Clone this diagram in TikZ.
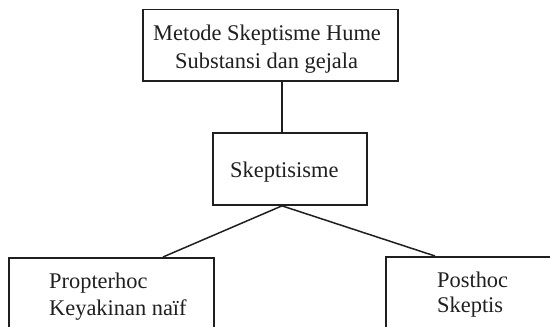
\documentclass[tikz,border=0pt]{standalone}
\usepackage{fontspec}
\setmainfont{Liberation Serif}
\begin{document}
\begin{tikzpicture}[x=1pt,y=-1pt,
  boxstyle/.style={draw=black!88,line width=1.7pt,rectangle,inner sep=0pt},
  txt/.style={inner sep=0pt,anchor=base west,font=\fontsize{22.4}{27}\selectfont,text=black!88},
  conn/.style={draw=black!88,line width=1.5pt}]
\useasboundingbox (0,0) rectangle (550,327);
\clip (0,0) rectangle (550,327);
% boxes
\node[boxstyle,minimum width=255pt,minimum height=71.5pt] (top) at (270.5,45.25) {};
\node[boxstyle,minimum width=154pt,minimum height=72pt] (skep) at (290,169) {};
\node[boxstyle,minimum width=205pt,minimum height=120pt,anchor=north west] (left) at (8,257) {};
\node[boxstyle,minimum width=200pt,minimum height=120pt,anchor=north west] (right) at (385,256) {};
% texts
\node[txt] (t1) at (153,40) {Metode Skeptisme Hume};
\node[txt] (t2) at (175,68) {Substansi dan gejala};
\node[txt] (t3) at (230,177) {Skeptisisme};
\node[txt] (t4) at (49,288) {Propterhoc};
\node[txt] (t5) at (49,315) {Keyakinan naïf};
\node[txt] (t6) at (437,287.7) {Posthoc};
\node[txt] (t7) at (437,312.7) {Skeptis};
% connector helper coordinates
\coordinate (j) at (282,0);
\coordinate (cl) at (163,0);
\coordinate (cr) at (435,0);
\draw[conn] (top.south -| j) -- (skep.north -| j);
\draw[conn] (skep.south -| j) -- (left.north -| cl);
\draw[conn] (skep.south -| j) -- (right.north -| cr);
\end{tikzpicture}
\end{document}
